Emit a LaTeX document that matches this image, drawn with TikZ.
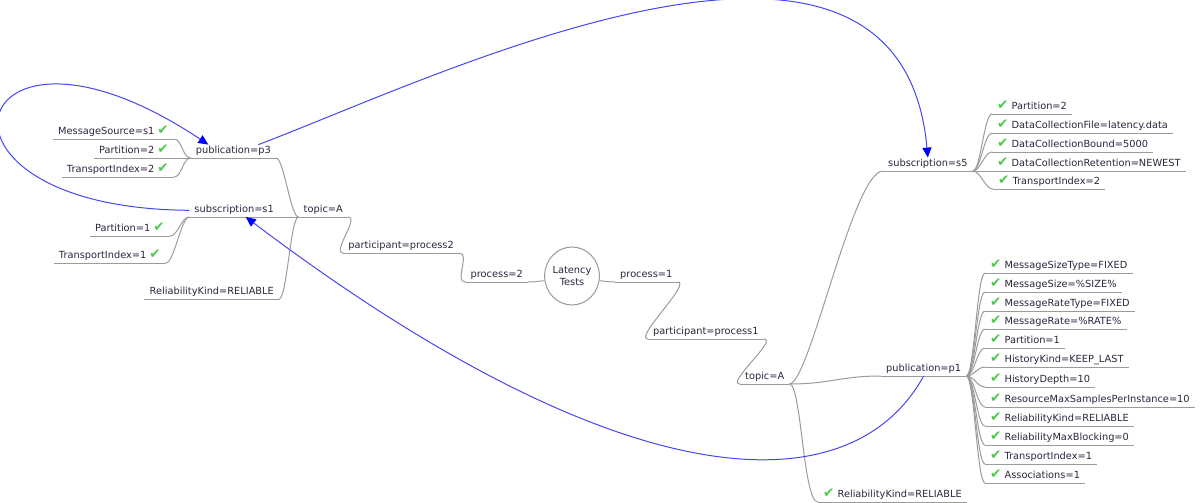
\documentclass[tikz,border=0pt]{standalone}
\usepackage{fontspec}
\setmainfont{DejaVu Sans}
\usetikzlibrary{shapes.geometric,arrows.meta}
\definecolor{ink}{RGB}{45,35,60}
\definecolor{edgegray}{RGB}{155,155,155}
\definecolor{chkgreen}{RGB}{80,200,80}
\definecolor{linkblue}{RGB}{70,70,240}
\newcommand{\mmfont}{\fontsize{9.8}{12.5}\selectfont}
\newcommand{\chk}{{\color{chkgreen}\fontsize{13.5}{11}\selectfont ✔}}

\begin{document}
\begin{tikzpicture}[x=1pt,y=-1pt,
  edgeline/.style={draw=edgegray,line width=1pt},
  leaf/.style={font=\mmfont,text=ink,inner xsep=5pt,inner ysep=2pt,text height=7pt,text depth=2pt,
    append after command={(\tikzlastnode.south west) edge[edgeline] (\tikzlastnode.south east)}},
  link/.style={draw=linkblue,line width=1pt,-{Triangle[length=10pt,width=9pt,color=blue,fill=blue]}}]
\useasboundingbox (0,0) rectangle (1200,503);

\node[ellipse,draw=edgegray,line width=1pt,minimum width=50pt,minimum height=58pt,inner sep=0pt,
  font=\mmfont,text=ink,align=center] (root) at (572,276) {Latency\\Tests};

% left side
\node[leaf,anchor=south east] (proc2) at (528,282) {process=2};
\node[leaf,anchor=south east] (part2) at (459,253) {participant=process2};
\node[leaf,anchor=south east] (topicL) at (348,217) {topic=A};
\node[leaf,anchor=south east] (pub3) at (276,158) {publication=p3};
\node[leaf,anchor=south east] (sub1) at (279,217) {subscription=s1};
\node[leaf,anchor=south east] (relL) at (279,299) {ReliabilityKind=RELIABLE};

\node[leaf,anchor=south east] (msgsrc) at (174,139) {MessageSource=s1 \chk};
\node[leaf,anchor=south east] (partC) at (174,158) {Partition=2 \chk};
\node[leaf,anchor=south east] (trC) at (174,177) {TransportIndex=2 \chk};
\node[leaf,anchor=south east] (partD) at (170,236) {Partition=1 \chk};
\node[leaf,anchor=south east] (trD) at (166,263) {TransportIndex=1 \chk};

% right side
\node[leaf,anchor=south west] (proc1) at (615,282) {process=1};
\node[leaf,anchor=south west] (part1) at (648,339) {participant=process1};
\node[leaf,anchor=south west] (topicR) at (740,384) {topic=A};
\node[leaf,anchor=south west] (sub5) at (883,171) {subscription=s5};
\node[leaf,anchor=south west] (pub1) at (881,376) {publication=p1};
\node[leaf,anchor=south west] (relR) at (818,502) {\chk\ ReliabilityKind=RELIABLE};

\node[leaf,anchor=south west] (partB) at (992,114) {\chk\ Partition=2};
\node[leaf,anchor=south west] (dcfile) at (992,133) {\chk\ DataCollectionFile=latency.data};
\node[leaf,anchor=south west] (dcbound) at (992,152) {\chk\ DataCollectionBound=5000};
\node[leaf,anchor=south west] (dcret) at (992,171) {\chk\ DataCollectionRetention=NEWEST};
\node[leaf,anchor=south west] (trB) at (993,189) {\chk\ TransportIndex=2};

\node[leaf,anchor=south west] (mst) at (985,273) {\chk\ MessageSizeType=FIXED};
\node[leaf,anchor=south west] (msz) at (985,292) {\chk\ MessageSize=\%SIZE\%};
\node[leaf,anchor=south west] (mrt) at (985,311) {\chk\ MessageRateType=FIXED};
\node[leaf,anchor=south west] (mrate) at (985,329) {\chk\ MessageRate=\%RATE\%};
\node[leaf,anchor=south west] (partA) at (985,348) {\chk\ Partition=1};
\node[leaf,anchor=south west] (hkind) at (985,367) {\chk\ HistoryKind=KEEP\_LAST};
\node[leaf,anchor=south west] (hdepth) at (985,387) {\chk\ HistoryDepth=10};
\node[leaf,anchor=south west] (resmax) at (985,407) {\chk\ ResourceMaxSamplesPerInstance=10};
\node[leaf,anchor=south west] (relkA) at (985,426) {\chk\ ReliabilityKind=RELIABLE};
\node[leaf,anchor=south west] (relblk) at (985,445) {\chk\ ReliabilityMaxBlocking=0};
\node[leaf,anchor=south west] (trA) at (985,464) {\chk\ TransportIndex=1};
\node[leaf,anchor=south west] (assoc) at (985,483) {\chk\ Associations=1};

% edges, left
\draw[edgeline] (proc2.south east) .. controls +(10,0) and +(-6,0) .. (root.190);
\draw[edgeline] (proc2.south west) .. controls +(-12,0) and +(12,0) .. (part2.south east);
\draw[edgeline] (part2.south west) .. controls +(-12,0) and +(12,0) .. (topicL.south east);
\draw[edgeline] (topicL.south west) .. controls +(-8,0) and +(8,0) .. (pub3.south east);
\draw[edgeline] (topicL.south west) -- (sub1.south east);
\draw[edgeline] (topicL.south west) .. controls +(-8,0) and +(8,0) .. (relL.south east);
\draw[edgeline] (pub3.south west) .. controls +(-8,0) and +(8,0) .. (msgsrc.south east);
\draw[edgeline] (pub3.south west) -- (partC.south east);
\draw[edgeline] (pub3.south west) .. controls +(-8,0) and +(8,0) .. (trC.south east);
\draw[edgeline] (sub1.south west) .. controls +(-8,0) and +(8,0) .. (partD.south east);
\draw[edgeline] (sub1.south west) .. controls +(-8,0) and +(8,0) .. (trD.south east);

% edges, right
\draw[edgeline] (proc1.south west) .. controls +(-10,0) and +(6,0) .. (root.350);
\draw[edgeline] (proc1.south east) .. controls +(15,0) and +(-15,0) .. (part1.south west);
\draw[edgeline] (part1.south east) .. controls +(15,0) and +(-15,0) .. (topicR.south west);
\draw[edgeline] (topicR.south east) .. controls +(20,0) and +(-30,0) .. (sub5.south west);
\draw[edgeline] (topicR.south east) .. controls +(40,0) and +(-40,0) .. (pub1.south west);
\draw[edgeline] (topicR.south east) .. controls +(12,0) and +(-15,0) .. (relR.south west);

\draw[edgeline] (sub5.south east) .. controls +(8,0) and +(-8,0) .. (partB.south west);
\draw[edgeline] (sub5.south east) .. controls +(8,0) and +(-8,0) .. (dcfile.south west);
\draw[edgeline] (sub5.south east) .. controls +(8,0) and +(-8,0) .. (dcbound.south west);
\draw[edgeline] (sub5.south east) -- (dcret.south west);
\draw[edgeline] (sub5.south east) .. controls +(8,0) and +(-8,0) .. (trB.south west);

\draw[edgeline] (pub1.south east) .. controls +(8,0) and +(-8,0) .. (mst.south west);
\draw[edgeline] (pub1.south east) .. controls +(8,0) and +(-8,0) .. (msz.south west);
\draw[edgeline] (pub1.south east) .. controls +(8,0) and +(-8,0) .. (mrt.south west);
\draw[edgeline] (pub1.south east) .. controls +(8,0) and +(-8,0) .. (mrate.south west);
\draw[edgeline] (pub1.south east) .. controls +(8,0) and +(-8,0) .. (partA.south west);
\draw[edgeline] (pub1.south east) .. controls +(8,0) and +(-8,0) .. (hkind.south west);
\draw[edgeline] (pub1.south east) .. controls +(8,0) and +(-8,0) .. (hdepth.south west);
\draw[edgeline] (pub1.south east) .. controls +(8,0) and +(-8,0) .. (resmax.south west);
\draw[edgeline] (pub1.south east) .. controls +(8,0) and +(-8,0) .. (relkA.south west);
\draw[edgeline] (pub1.south east) .. controls +(8,0) and +(-8,0) .. (relblk.south west);
\draw[edgeline] (pub1.south east) .. controls +(8,0) and +(-8,0) .. (trA.south west);
\draw[edgeline] (pub1.south east) .. controls +(8,0) and +(-8,0) .. (assoc.south west);

% arrow links
\draw[link] (sub1.west) .. controls +(-288,-2) and +(-243,-162) .. (pub3.165);
\draw[link] (pub3.15) .. controls +(173,-65) and +(-28,-308) .. (sub5.north);
\draw[link] (pub1.south) .. controls +(-74,134) and +(375,283) .. (sub1.-30);
\end{tikzpicture}
\end{document}
